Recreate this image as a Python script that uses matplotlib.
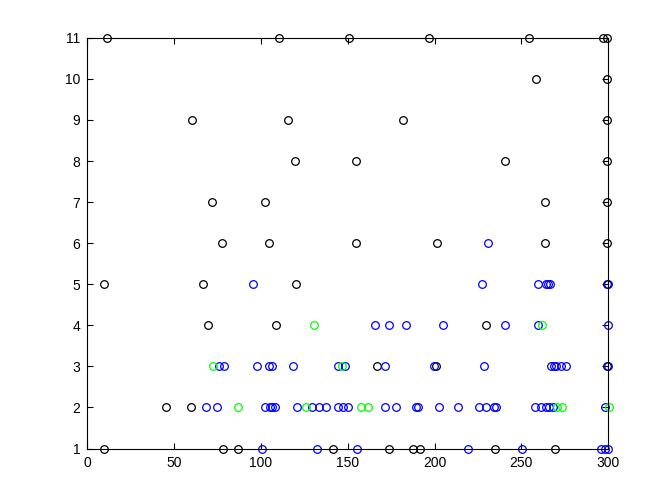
import matplotlib
matplotlib.use("Agg")
import matplotlib.pyplot as plt

# Black series
black_x = [9.8, 77.9, 86.8, 141.6, 174.0, 187.4, 191.5, 235.0, 269.3,
           45.1, 59.8,
           166.7, 200.7, 299.6,
           69.6, 108.8, 229.7,
           9.8, 66.7, 119.9, 299.4,
           77.7, 104.7, 154.8, 201.4, 263.6, 299.4,
           71.9, 102.6, 263.6, 299.4,
           119.7, 154.8, 240.5, 299.4,
           60.4, 115.5, 181.9, 299.4,
           258.4, 299.4,
           11.1, 110.3, 150.6, 196.8, 254.4, 297.2, 299.4]
black_y = [1, 1, 1, 1, 1, 1, 1, 1, 1,
           2, 2,
           3, 3, 3,
           4, 4, 4,
           5, 5, 5, 5,
           6, 6, 6, 6, 6, 6,
           7, 7, 7, 7,
           8, 8, 8, 8,
           9, 9, 9, 9,
           10, 10,
           11, 11, 11, 11, 11, 11, 11]

# Blue series
blue_x = [100.8, 132.4, 155.3, 219.0, 250.4, 296.0, 298.2, 299.8,
          68.3, 74.6, 102.2, 105.1, 106.4, 107.9, 120.9, 129.5, 133.5, 137.4,
          144.5, 147.0, 150.2, 171.3, 177.7, 189.2, 190.5, 202.6, 213.7, 225.6,
          229.9, 234.1, 235.2, 257.9, 261.5, 264.0, 265.9, 268.2, 298.4,
          75.9, 78.6, 97.6, 104.7, 106.3, 118.5, 144.1, 148.3, 171.5, 199.5,
          228.5, 267.3, 268.6, 269.8, 273.1, 275.9, 299.9,
          165.7, 173.8, 183.6, 204.9, 240.6, 259.6, 299.9,
          95.5, 227.3, 259.4, 264.0, 265.3, 266.7, 299.7,
          231.0]
blue_y = [1] * 8 + [2] * 29 + [3] * 17 + [4] * 7 + [5] * 7 + [6]

# Green series
green_x = [86.9, 125.7, 157.5, 161.7, 270.5, 273.6, 300.3,
           72.5, 146.6,
           130.6, 262.1]
green_y = [2, 2, 2, 2, 2, 2, 2, 3, 3, 4, 4]

plt.rcParams["font.family"] = ["Liberation Sans", "DejaVu Sans"]

fig = plt.figure(figsize=(6.72, 5.04), dpi=100)
ax = fig.add_axes([0.13, 0.11, 0.775, 0.815])

mk = dict(marker="o", linestyle="none", markerfacecolor="none",
          markersize=5.5, markeredgewidth=0.9, clip_on=False)
ax.plot(black_x, black_y, markeredgecolor="black", **mk)
ax.plot(blue_x, blue_y, markeredgecolor="#0000ff", **mk)
ax.plot(green_x, green_y, markeredgecolor="#00ff00", **mk)

ax.set_xlim(0, 300)
ax.set_ylim(1, 11)
ax.set_xticks(range(0, 301, 50))
ax.set_yticks(range(1, 12))
ax.tick_params(direction="in", top=True, right=True, length=4, width=0.8,
               labelsize=10, colors="black")
ax.tick_params(axis="x", pad=5)
ax.tick_params(axis="y", pad=5)
for s in ax.spines.values():
    s.set_linewidth(0.8)

fig.savefig("out.png", dpi=100, facecolor="white")
